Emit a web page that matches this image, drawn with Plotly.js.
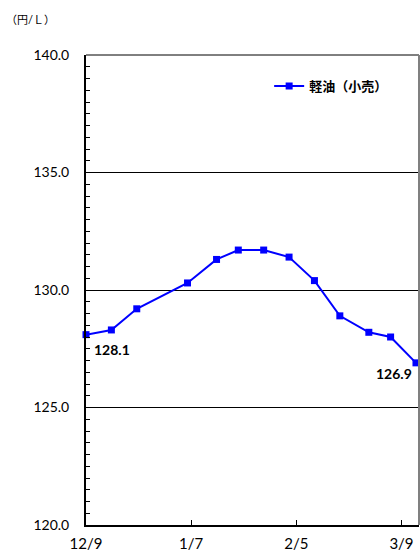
<!DOCTYPE html>
<html>
<head>
<meta charset="utf-8">
<script src="https://cdn.plot.ly/plotly-3.0.1.min.js"></script>
<style>html,body{margin:0;padding:0;background:#fff;}#chart{width:420px;height:551px;}</style>
</head>
<body>
<div id="chart"></div>
<script>
// Data
const dates = ['2019-12-09','2019-12-16','2019-12-23','2020-01-06','2020-01-14','2020-01-20','2020-01-27','2020-02-03','2020-02-10','2020-02-17','2020-02-25','2020-03-02','2020-03-09'];
const prices = [128.1,128.3,129.2,130.3,131.3,131.7,131.7,131.4,130.4,128.9,128.2,128.0,126.9];
const seriesName = '軽油（小売）';
const tickDates = ['2019-12-09','2020-01-07','2020-02-05','2020-03-05'];
const tickLabels = ['12/9','1/7','2/5','3/9'];
const yTicks = [120,125,130,135,140];
const yTickLabels = ['120.0','125.0','130.0','135.0','140.0'];
const unitLabel = '（円/Ｌ）';

const FONT = "Lato, 'Noto Sans CJK JP', sans-serif";

const trace = {
  x: dates, y: prices, type: 'scatter', mode: 'lines+markers', name: seriesName,
  line: {color: '#0000ff', width: 2},
  marker: {symbol: 'square', size: 7, color: '#0000ff'},
  cliponaxis: false, showlegend: true
};

const n = prices.length;
const layout = {
  width: 420, height: 551,
  margin: {l: 86, r: 1, t: 55, b: 26},
  paper_bgcolor: '#fff', plot_bgcolor: '#fff',
  font: {family: FONT, color: '#000', size: 13},
  showlegend: true,
  legend: {x: 0.55, y: 0.934, xanchor: 'left', yanchor: 'middle', bgcolor: 'rgba(0,0,0,0)',
    font: {family: FONT, size: 13, weight: 'bold', color: '#000'}, itemwidth: 30},
  xaxis: {
    type: 'date', range: ['2019-12-09', '2020-03-09 20:00'],
    tickvals: tickDates, ticktext: tickLabels, tickmode: 'array',
    ticks: 'inside', ticklen: 5, tickcolor: '#000',
    showline: true, linecolor: '#000', linewidth: 2, showgrid: false, zeroline: false,
    tickfont: {family: FONT, size: 15, color: '#000'}, ticklabelstandoff: 4
  },
  yaxis: {
    range: [120, 140], tickvals: yTicks, ticktext: yTickLabels, tickmode: 'array',
    ticks: 'inside', ticklen: 6, tickcolor: '#000',
    minor: {dtick: 0.5, ticks: 'inside', ticklen: 4, tickcolor: '#000', showgrid: false},
    showline: true, linecolor: '#000', linewidth: 2,
    showgrid: true, gridcolor: '#000', gridwidth: 1, zeroline: false,
    tickfont: {family: FONT, size: 14, color: '#000'}, ticklabelstandoff: 12
  },
  shapes: [
    {type: 'line', xref: 'paper', yref: 'paper', x0: 0, x1: 1, y0: 1, y1: 1, line: {color: '#000', width: 1}},
    {type: 'line', xref: 'paper', yref: 'paper', x0: 1, x1: 1, y0: 0, y1: 1, line: {color: '#808080', width: 2}}
  ],
  annotations: [
    {xref: 'paper', yref: 'paper', x: -0.245, y: 1.076, xanchor: 'left', yanchor: 'middle', showarrow: false,
     text: unitLabel, font: {family: FONT, size: 11, color: '#000'}},
    {x: dates[0], y: prices[0], xref: 'x', yref: 'y', showarrow: false, xanchor: 'left', yanchor: 'middle',
     xshift: 6, yshift: -15, text: prices[0].toFixed(1), font: {family: FONT, size: 14, weight: 'bold', color: '#000'}},
    {x: dates[n-1], y: prices[n-1], xref: 'x', yref: 'y', showarrow: false, xanchor: 'right', yanchor: 'middle',
     xshift: -2, yshift: -11, text: prices[n-1].toFixed(1), font: {family: FONT, size: 14, weight: 'bold', color: '#000'}}
  ]
};

Plotly.newPlot('chart', [trace], layout, {displayModeBar: false, staticPlot: true});
</script>
</body>
</html>
